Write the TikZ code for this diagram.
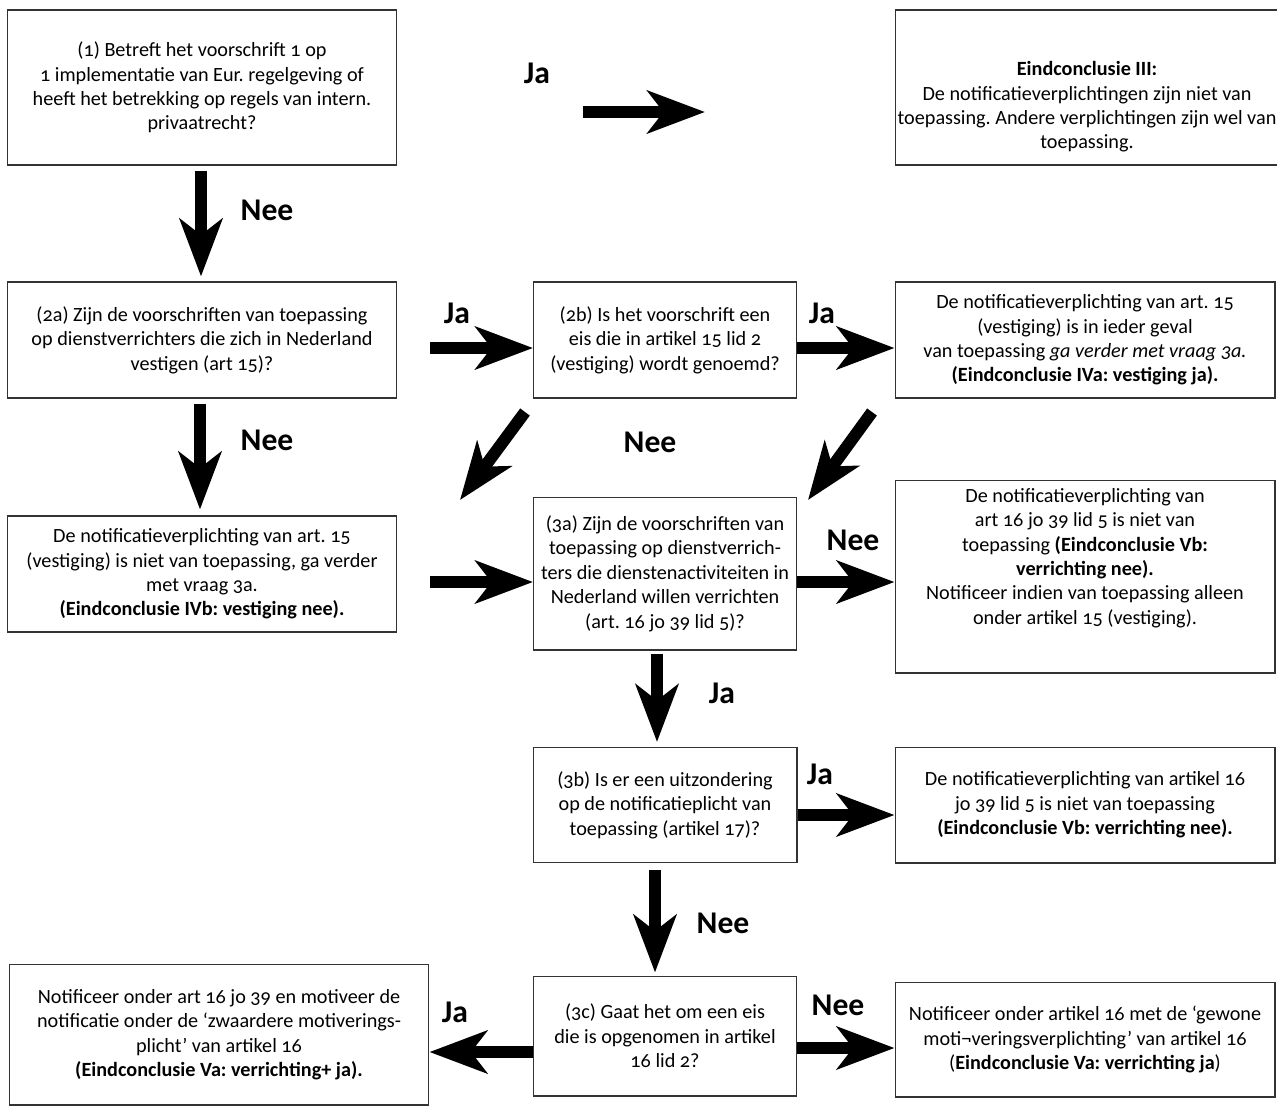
\documentclass[tikz,border=0pt]{standalone}
\usepackage{fontspec}
\setmainfont{Carlito}[Numbers=OldStyle]
\usetikzlibrary{arrows.meta}
\tikzset{
  tekst/.style = {align=center, inner sep=0pt,
    font=\fontsize{11.5}{13.9}\selectfont},% losse tekst in een kader
  vraag/.style = {tekst, draw=black!80, line width=0.6pt},% vraag of conclusie
  pijl/.style = {line width=0.24cm,
    -{Stealth[length=1.15cm, width=0.85cm, inset=0.32cm]}},% dikke pijl
  antw/.style = {font=\fontsize{18}{20}\selectfont\bfseries},% Ja / Nee
}

\begin{document}
\frenchspacing
\begin{tikzpicture}[x=0.02cm, y=-0.02cm]
\useasboundingbox (0,0) rectangle (1277,1110);
\clip (0,0) rectangle (1277,1110);

% vragen en conclusies
\node [vraag, minimum width=7.8cm, minimum height=3.1cm] (q1) at (202,87.5)
  {(1) Betreft het voorschrift 1 op\\1 implementatie van Eur. regelgeving of\\
   heeft het betrekking op regels van intern.\\privaatrecht?};
\node [vraag, minimum width=7.68cm, minimum height=3.1cm] (e3) at (1087,87.5) {};
\node [tekst] (e3t) at (1087,107)
  {\textbf{Eindconclusie III:}\\De notificatieverplichtingen zijn niet van\\
   toepassing. Andere verplichtingen zijn wel van\\toepassing.};
\node [vraag, minimum width=7.8cm, minimum height=2.32cm] (q2a) at (202,340)
  {(2a) Zijn de voorschriften van toepassing\\op dienstverrichters die zich in Nederland\\
   vestigen (art 15)?};
\node [vraag, minimum width=5.26cm, minimum height=2.32cm] (q2b) at (665,340)
  {(2b) Is het voorschrift een\\eis die in artikel 15 lid 2\\(vestiging) wordt genoemd?};
\node [vraag, minimum width=7.6cm, minimum height=2.32cm] (c4a) at (1085,340)
  {De notificatieverplichting van art. 15\\(vestiging) is in ieder geval\\
   van toepassing \textit{ga verder met vraag 3a.}\\\textbf{(Eindconclusie IVa: vestiging ja).}};
\node [vraag, minimum width=7.8cm, minimum height=2.32cm] (c4b) at (202,574)
  {De notificatieverplichting van art. 15\\(vestiging) is niet van toepassing, ga verder\\
   met vraag 3a.\\\textbf{(Eindconclusie IVb: vestiging nee).}};
\node [vraag, minimum width=5.26cm, minimum height=3.06cm] (q3a) at (665,573.5)
  {(3a) Zijn de voorschriften van\\toepassing op dienstverrich-\\ters die dienstenactiviteiten in\\
   Nederland willen verrichten\\(art. 16 jo 39 lid 5)?};
\node [vraag, minimum width=7.6cm, minimum height=3.86cm] (c5b) at (1085,576.5) {};
\node [tekst] (c5bt) at (1085,558)
  {De notificatieverplichting van\\art 16 jo 39 lid 5 is niet van\\
   toepassing \textbf{(Eindconclusie Vb:}\\\textbf{verrichting nee).}\\
   Notificeer indien van toepassing alleen\\onder artikel 15 (vestiging).};
\node [vraag, minimum width=5.28cm, minimum height=2.3cm] (q3b) at (665,805)
  {(3b) Is er een uitzondering\\op de notificatieplicht van\\toepassing (artikel 17)?};
\node [vraag, minimum width=7.6cm, minimum height=2.32cm] (c5b2) at (1085,805)
  {De notificatieverplichting van artikel 16\\jo 39 lid 5 is niet van toepassing\\
   \textbf{(Eindconclusie Vb: verrichting nee).}};
\node [vraag, minimum width=5.26cm, minimum height=2.4cm] (q3c) at (665,1036)
  {(3c) Gaat het om een eis\\die is opgenomen in artikel\\16 lid 2?};
\node [vraag, minimum width=8.4cm, minimum height=2.82cm] (c5ap) at (219,1034.5)
  {Notificeer onder art 16 jo 39 en motiveer de\\notificatie onder de ‘zwaardere motiverings-\\
   plicht’ van artikel 16\\\textbf{(Eindconclusie Va: verrichting+ ja).}};
\node [vraag, minimum width=7.6cm, minimum height=2.3cm] (c5a) at (1085,1039.5)
  {Notificeer onder artikel 16 met de ‘gewone\\moti¬veringsverplichting’ van artikel 16\\
   (\textbf{Eindconclusie Va: verrichting ja})};

% losse uiteinden
\coordinate (j1s) at (583,112);
\coordinate (j1e) at (705,112);
\coordinate (j2s) at (430,348);
\coordinate (j3s) at (430,582);
\coordinate (d1s) at (525,412);
\coordinate (d1e) at (460,500);
\coordinate (d2s) at (872,412);
\coordinate (d2e) at (808,500);

% pijlen
\draw [pijl] (j1s) -- (j1e);
\draw [pijl, shorten <=0.1cm, shorten >=0.1cm] ([xshift=-0.02cm]q1.south) -- ([xshift=-0.02cm]q2a.north);
\draw [pijl] (j2s) -- (j2s -| q2b.west);
\draw [pijl] (q2b.east |- j2s) -- (j2s -| c4a.west);
\draw [pijl, shorten <=0.1cm, shorten >=0.12cm] ([xshift=-0.04cm]q2a.south) -- ([xshift=-0.04cm]c4b.north);
\draw [pijl] (d1s) -- (d1e);
\draw [pijl] (d2s) -- (d2e);
\draw [pijl] (j3s) -- (j3s -| q3a.west);
\draw [pijl] (q3a.east |- j3s) -- (j3s -| c5b.west);
\draw [pijl, shorten <=0.06cm, shorten >=0.1cm] ([xshift=-0.16cm]q3a.south) -- ([xshift=-0.16cm]q3b.north);
\draw [pijl] ([yshift=-0.2cm]q3b.east) -- ([yshift=-0.2cm]q3b.east -| c5b2.west);
\draw [pijl, shorten <=0.14cm, shorten >=0.06cm] ([xshift=-0.2cm]q3b.south) -- ([xshift=-0.2cm]q3c.north);
\draw [pijl] ([yshift=-0.32cm]q3c.west) -- ([yshift=-0.32cm]q3c.west -| c5ap.east);
\draw [pijl] ([yshift=-0.24cm]q3c.east) -- ([yshift=-0.24cm]q3c.east -| c5a.west);

% antwoorden
\node [antw] (ja1) at (537,73) {Ja};
\node [antw] (nee1) at (267,210) {Nee};
\node [antw] (ja2) at (457,313) {Ja};
\node [antw] (ja3) at (822,313) {Ja};
\node [antw] (nee2) at (267,440) {Nee};
\node [antw] (nee3) at (650,442) {Nee};
\node [antw] (nee4) at (853,540) {Nee};
\node [antw] (ja4) at (722,693) {Ja};
\node [antw] (ja5) at (820,774) {Ja};
\node [antw] (nee5) at (723,923) {Nee};
\node [antw] (ja6) at (455,1012) {Ja};
\node [antw] (nee6) at (838,1005) {Nee};
\end{tikzpicture}
\end{document}
